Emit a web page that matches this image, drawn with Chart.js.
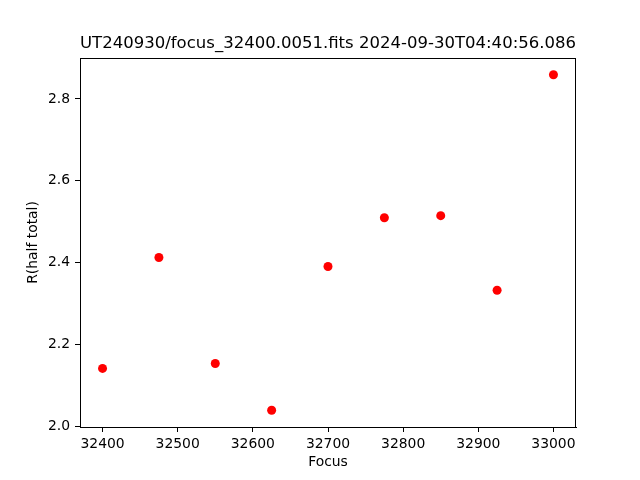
<!doctype html>
<html>
<head>
	<title>Focus scan</title>
	<script src="https://cdn.jsdelivr.net/npm/chart.js@4.4.1"></script>
	<style>
	* { margin: 0; padding: 0; }
	body { background: white; }
	</style>
</head>
<body>
	<canvas id="canvas_focus" width="640" height="480"></canvas>
<script type="text/javascript">
	// data
	var focus_vals = [32400, 32475, 32550, 32625, 32700, 32775, 32850, 32925, 33000];
	var r_half_vals = [2.142, 2.413, 2.154, 2.040, 2.391, 2.510, 2.515, 2.333, 2.859];
	var x_ticks = [32400, 32500, 32600, 32700, 32800, 32900, 33000];
	var y_ticks = [2.0, 2.2, 2.4, 2.6, 2.8];

	var fontName = "'DejaVu Sans', sans-serif";

	// box round the plot area like matplotlib spines
	var frame = {
		id: 'frame',
		afterDraw: function(chart) {
			var a = chart.chartArea, ctx = chart.ctx;
			ctx.save();
			ctx.strokeStyle = '#000';
			ctx.lineWidth = 1;
			ctx.strokeRect(Math.round(a.left) + 0.5, Math.round(a.top) + 0.5,
				Math.round(a.right - a.left) - 1, Math.round(a.bottom - a.top));
			ctx.restore();
		}
	};

	var points = focus_vals.map(function(f, i) { return {x: f, y: r_half_vals[i]}; });

	var focus_config = {
		type: 'scatter',
		data: {
			datasets: [{
				data: points,
				backgroundColor: '#ff0000',
				borderWidth: 0,
				pointRadius: 4.5,
				pointHoverRadius: 4.5,
				showLine: false
			}]
		},
		options: {
			responsive: false,
			animation: false,
			layout: { padding: { top: 0, right: 64, bottom: 0, left: 0 } },
			scales: {
				x: {
					type: 'linear',
					min: 32370,
					max: 33030,
					afterBuildTicks: function(scale) {
						scale.ticks = x_ticks.map(function(v) { return {value: v}; });
					},
					afterFit: function(scale) { scale.height = 53; },
					grid: {
						display: true,
						drawOnChartArea: false,
						drawTicks: true,
						tickLength: 5,
						color: '#000'
					},
					border: { display: true, color: '#000', width: 1 },
					ticks: {
						color: '#000',
						padding: 4,
						maxRotation: 0,
						autoSkip: false,
						font: { family: fontName, size: 13.9 },
						callback: function(v) { return String(v); }
					},
					title: {
						display: true,
						text: 'Focus',
						color: '#000',
						padding: { top: 0, bottom: 9.7 },
						font: { family: fontName, size: 13.9 }
					}
				},
				y: {
					type: 'linear',
					min: 1.999,
					max: 2.900,
					afterBuildTicks: function(scale) {
						scale.ticks = y_ticks.map(function(v) { return {value: v}; });
					},
					afterFit: function(scale) { scale.width = 80; },
					grid: {
						display: true,
						drawOnChartArea: false,
						drawTicks: true,
						tickLength: 5,
						color: '#000'
					},
					border: { display: true, color: '#000', width: 1 },
					ticks: {
						color: '#000',
						padding: 5,
						autoSkip: false,
						font: { family: fontName, size: 13.9 },
						callback: function(v) { return v.toFixed(1); }
					},
					title: {
						display: true,
						text: 'R(half total)',
						color: '#000',
						padding: { top: 25, bottom: 0 },
						font: { family: fontName, size: 13.9 }
					}
				}
			},
			plugins: {
				legend: { display: false },
				tooltip: { enabled: false },
				title: {
					display: true,
					fullSize: false,
					text: 'UT240930/focus_32400.0051.fits 2024-09-30T04:40:56.086',
					color: '#000',
					font: { family: fontName, size: 16.67, weight: 'normal' },
					padding: { top: 34, bottom: 4 }
				}
			}
		},
		plugins: [frame]
	};

	var focus_Chart = new Chart(document.getElementById('canvas_focus'), focus_config);
</script>
</body>
</html>
